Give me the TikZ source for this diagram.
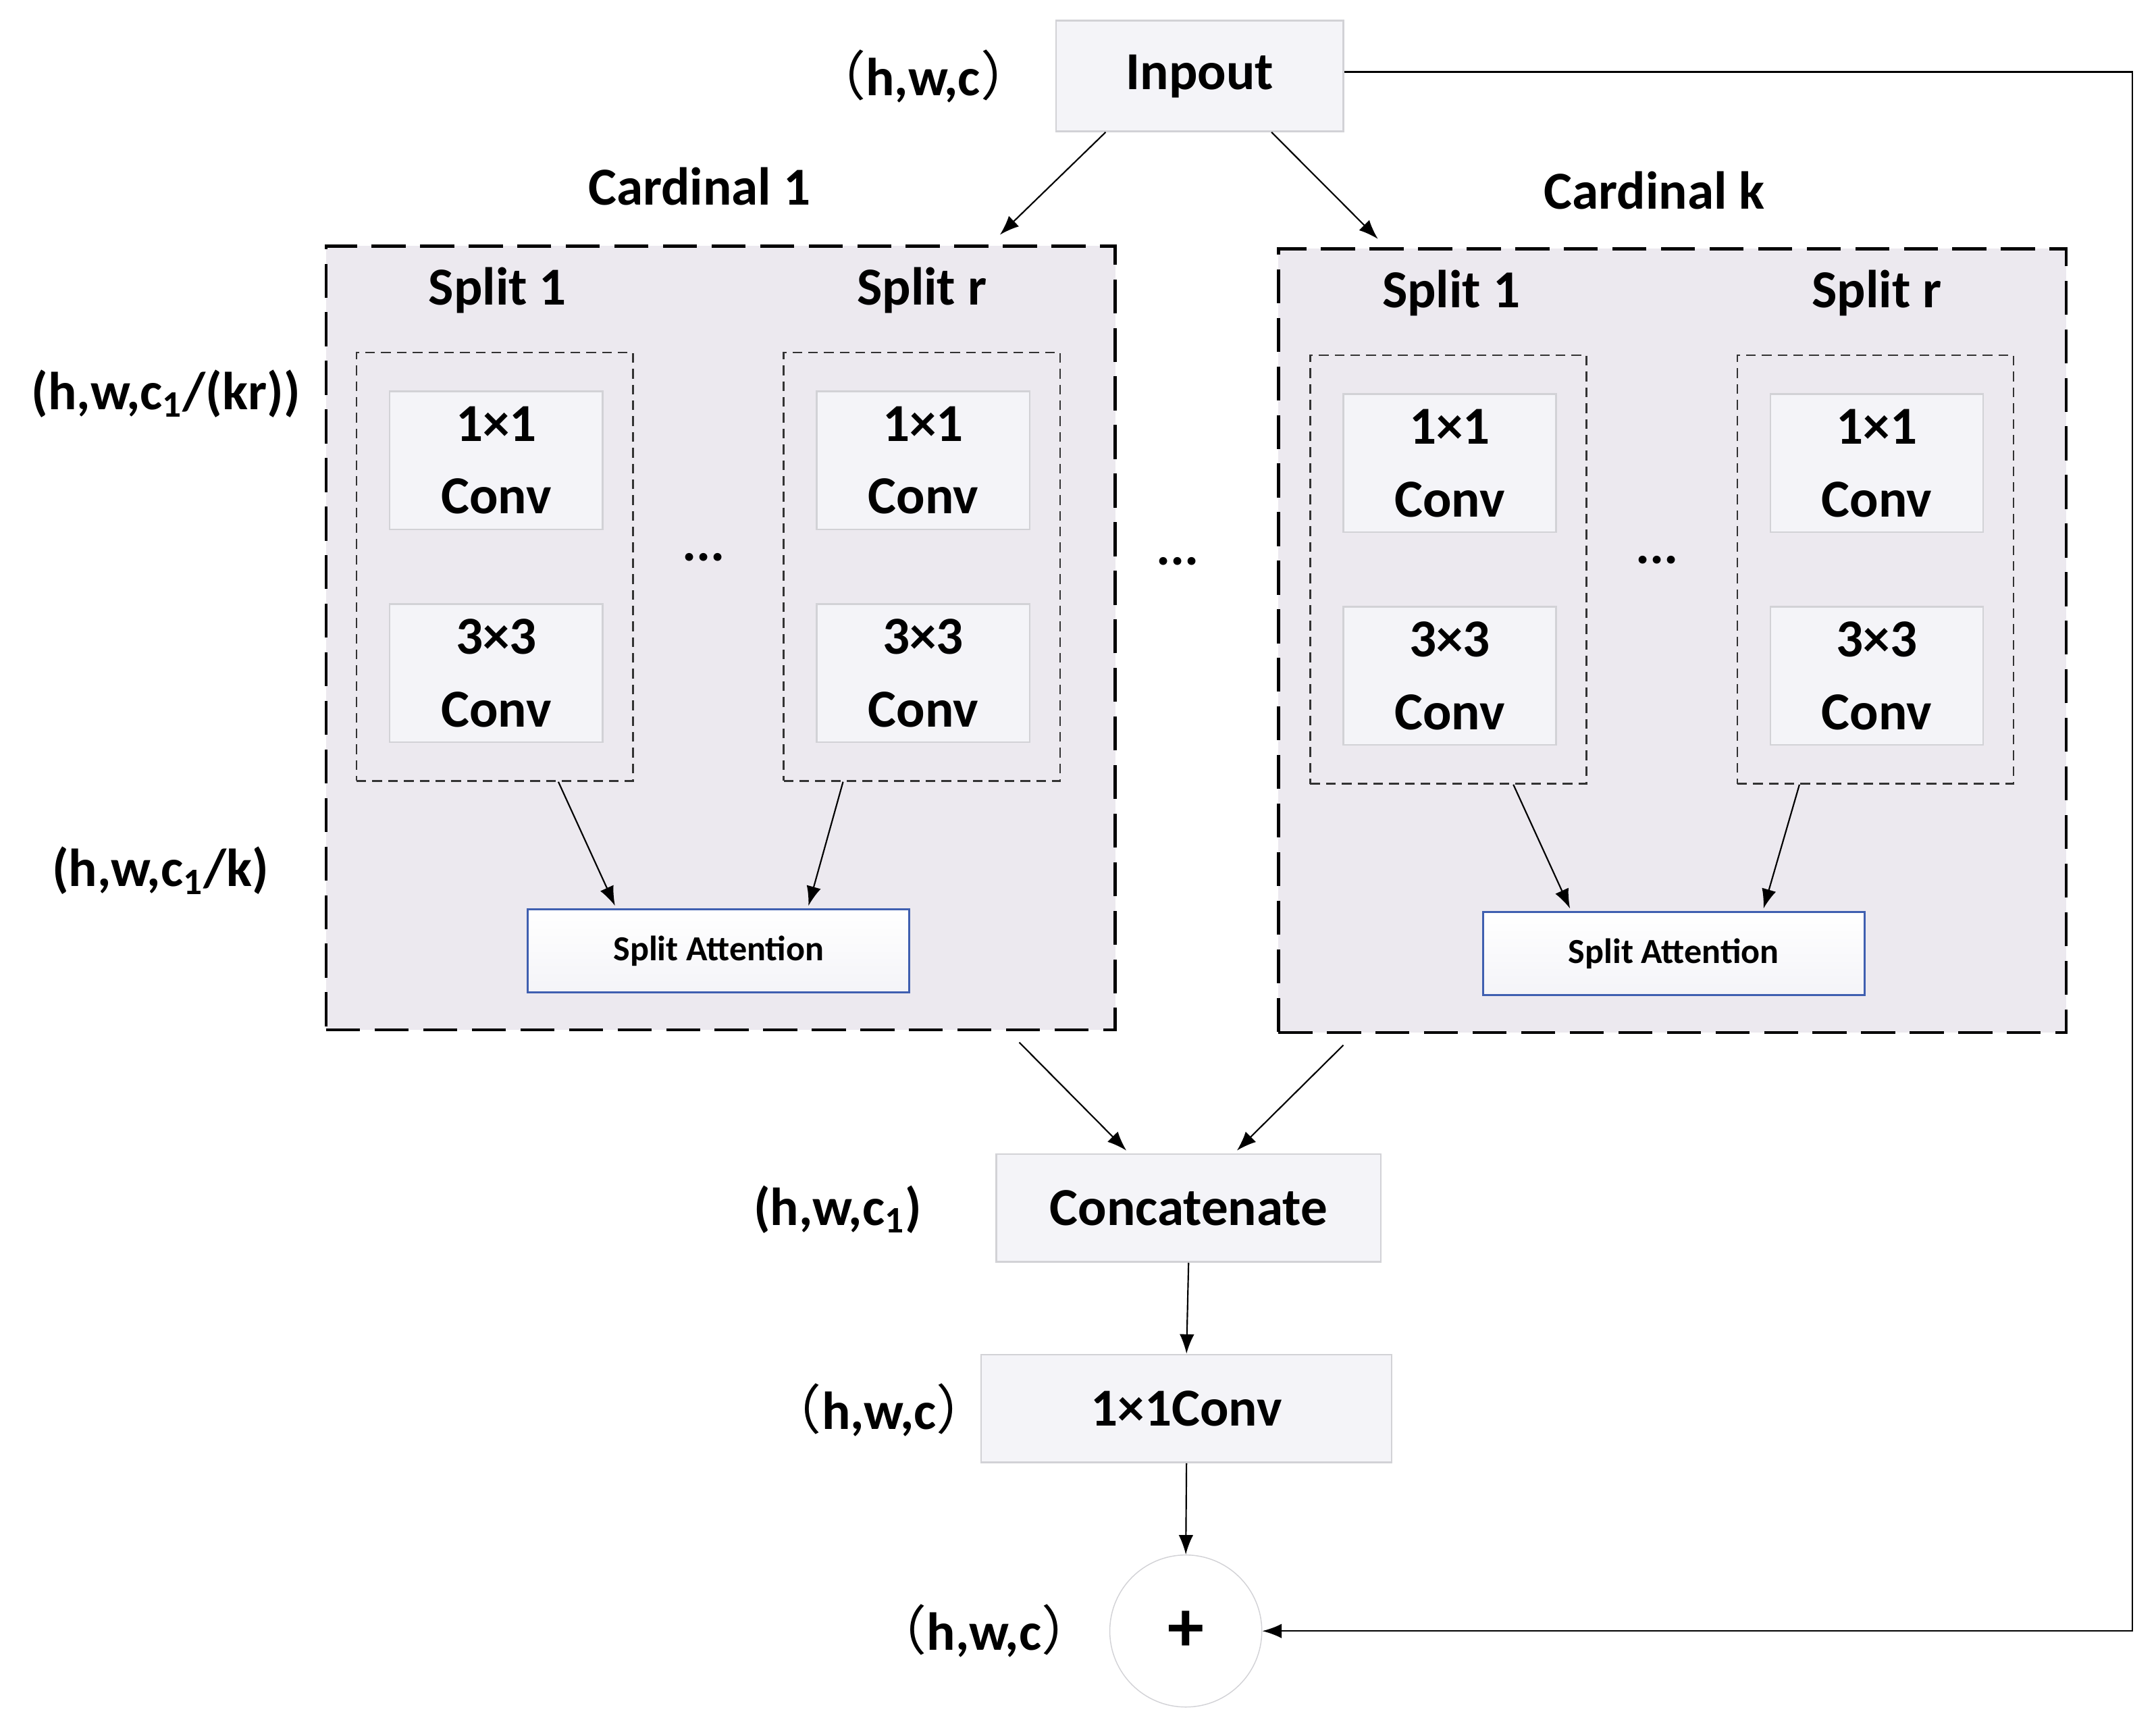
\documentclass[tikz,border=0pt]{standalone}
\usepackage{fontspec}
\setmainfont{Carlito}
\newfontfamily\cjk{Noto Sans CJK SC}
\usetikzlibrary{arrows.meta,calc}
\definecolor{bg}{HTML}{ECE9EF}
\definecolor{bx}{HTML}{F4F4F8}
\definecolor{bxd}{HTML}{D2D2D6}
\definecolor{sab}{HTML}{3F5FB0}
\newcommand{\cp}[1]{{\cjk\mdseries #1}}
\begin{document}
\begin{tikzpicture}[x=0.02cm,y=-0.02cm,
  lab/.style={font=\fontsize{22}{26}\selectfont\bfseries},
  big/.style={draw=black,line width=1.3pt,dash pattern=on 14pt off 6pt,fill=bg},
  inner/.style={draw=black!80,line width=0.7pt,dash pattern=on 4pt off 2.5pt},
  bx/.style={draw=bxd,fill=bx,line width=0.7pt,font=\fontsize{22}{26}\selectfont\bfseries,align=center},
  sa/.style={draw=sab,line width=0.8pt,top color=white,bottom color=bx,font=\fontsize{14.5}{17}\selectfont\bfseries},
  arr/.style={-{Latex[length=8pt,width=6pt]},line width=0.6pt}]
\useasboundingbox (0,0) rectangle (1560,1244);
% big boxes
\node[big,minimum width=571*0.02cm,minimum height=567*0.02cm] (L) at (521.5,461.5) {};
\node[big,minimum width=570*0.02cm,minimum height=567*0.02cm] (R) at (1210,463.5) {};
% inner
\foreach \n/\x/\y in {l1/358/410,lr/667/410,r1/1048/412,rr/1357/412}{
  \node[inner,minimum width=200*0.02cm,minimum height=310*0.02cm] (\n) at (\x,\y) {};
  \node[bx,minimum width=154*0.02cm,minimum height=100*0.02cm] (\n a) at (\x+1,\y-77) {1×1\\[4pt]Conv};
  \node[bx,minimum width=154*0.02cm,minimum height=100*0.02cm] (\n b) at (\x+1,\y+77) {3×3\\[4pt]Conv};
}
\node[lab] (s1) at (360,210) {Split 1};
\node[lab] (s2) at (667,210) {Split r};
\node[lab] (s3) at (1050,212) {Split 1};
\node[lab] (s4) at (1358,212) {Split r};
\node[lab] (c1) at (506,135) {Cardinal 1};
\node[lab] (ck) at (1197,138) {Cardinal k};
\node[lab] (d1) at (509,403) {...};
\node[lab] (d2) at (852,406) {...};
\node[lab] (d3) at (1199,405) {...};
\node[sa,minimum width=276*0.02cm,minimum height=60*0.02cm] (saL) at (520,688) {Split Attention};
\node[sa,minimum width=276*0.02cm,minimum height=60*0.02cm] (saR) at (1211,690) {Split Attention};
\node[bx,minimum width=208*0.02cm,minimum height=80*0.02cm] (in) at (868,55) {Inpout};
\node[bx,minimum width=278*0.02cm,minimum height=78*0.02cm] (cat) at (860,874) {Concatenate};
\node[bx,minimum width=297*0.02cm,minimum height=78*0.02cm] (conv) at (858.5,1019) {1×1Conv};
\node[draw=bxd,fill=white,circle,minimum size=110*0.02cm,inner sep=0,font=\fontsize{30}{32}\selectfont\bfseries] (plus) at (858,1180) {+};
% labels
\node[lab] (t1) at (668,55) {\cp{（}h,w,c\cp{）}};
\node[lab] (t2) at (120,285) {(h,w,c$_{\mathbf 1}$/(kr))};
\node[lab] (t3) at (116,630) {(h,w,c$_{\mathbf 1}$/k)};
\node[lab] (t4) at (606,875) {(h,w,c$_{\mathbf 1}$)};
\node[lab] (t5) at (636,1020) {\cp{（}h,w,c\cp{）}};
\node[lab] (t6) at (712,1180) {\cp{（}h,w,c\cp{）}};
% arrows
\draw[arr] ($(in.south)+(-68,0)$) -- ($(L.north)+(202,-7)$);
\draw[arr] ($(in.south)+(52,0)$) -- ($(R.north)+(-213,-6)$);
\draw[arr] ($(l1.south)+(46,0)$) -- ($(saL.north)+(-75,-2)$);
\draw[arr] ($(lr.south)+(-57,0)$) -- ($(saL.north)+(65,-2)$);
\draw[arr] ($(r1.south)+(47,0)$) -- ($(saR.north)+(-75,-2)$);
\draw[arr] ($(rr.south)+(-55,0)$) -- ($(saR.north)+(65,-2)$);
\draw[arr] ($(L.south)+(216,8)$) -- ($(cat.north)+(-45,-2)$);
\draw[arr] ($(R.south)+(-238,8)$) -- ($(cat.north)+(35,-2)$);
\draw[arr] (cat.south) -- (conv.north);
\draw[arr] (conv.south) -- (plus.north);
\draw[arr] ($(in.east)+(0,-3)$) -| (1543,1180) -- (plus.east);
\end{tikzpicture}
\end{document}
